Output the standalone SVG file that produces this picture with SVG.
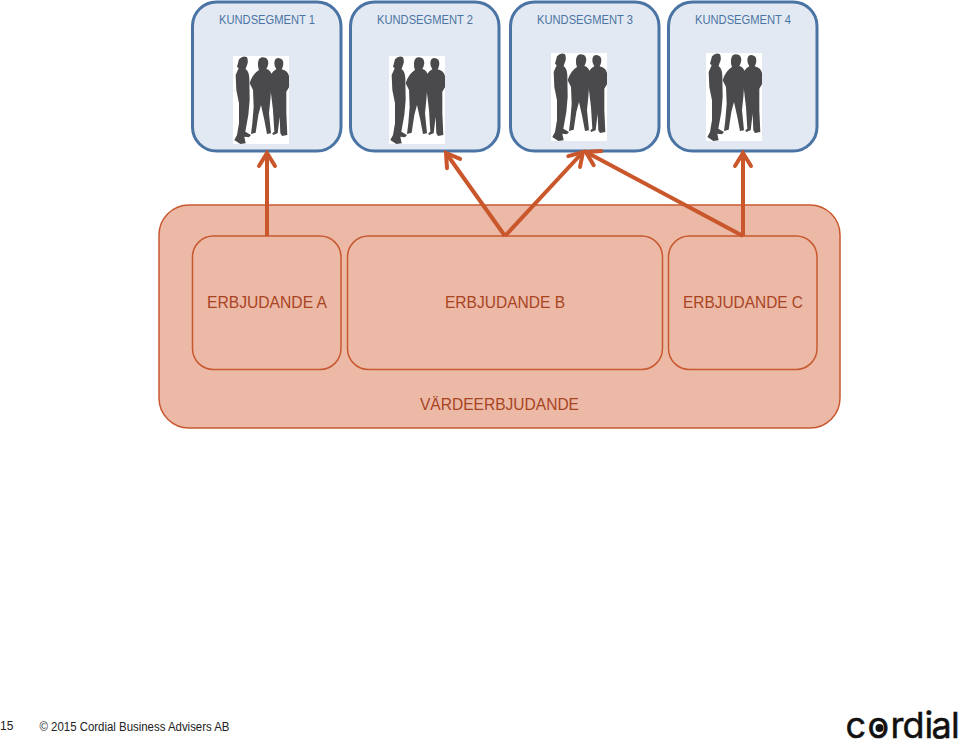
<svg xmlns="http://www.w3.org/2000/svg" width="960" height="741" viewBox="0 0 960 741">
  <style>
    text { font-family: "Liberation Sans", Arial, sans-serif; }
    .seg { fill: #e3e9f2; stroke: #4a74a4; stroke-width: 3; }
    .segt { font-size: 12px; fill: #4a74a4; text-anchor: middle; }
    .outer { fill: #ecb9a7; stroke: #c8582f; stroke-width: 1.5; }
    .offer { fill: #ecb9a7; stroke: #c8582f; stroke-width: 1.5; }
    .offt { font-size: 16.500px; fill: #a8441f; text-anchor: middle; }
    .conn { stroke: #c9572b; stroke-width: 4; fill: none; marker-end: url(#head); }
  </style>
  <defs>
    <marker id="head" markerUnits="userSpaceOnUse" markerWidth="24" markerHeight="24" refX="18" refY="12" orient="auto" viewBox="0 0 24 24">
      <path d="M5 4 L18 12 L5 20" fill="none" stroke="#c9572b" stroke-width="4" stroke-linecap="round" stroke-linejoin="miter"/>
    </marker>
    <!-- three standing figures, 56 x 88 -->
    <g id="people">
      <rect width="56" height="88" fill="#ffffff"/>
      <g transform="scale(.3333) translate(-128,-168)" fill="#4a4a4c">
        <path d="M146 178 Q158 165 170 172 Q176 185 168 200 L166 208 Q176 214 177 235 L178 300 L174 345 L165 395 L182 405 L176 412 L162 410 L166 430 L150 432 L132 420 L140 405 L146 370 L146 310 L138 270 L136 225 L145 205 L140 200 Z"/>
        <path d="M218 172 Q234 172 234 190 Q232 202 228 206 Q244 212 245 230 L240 300 L236 340 L242 400 L230 402 L222 360 L212 315 L204 345 L196 398 L182 402 L186 370 L190 320 L188 270 L178 250 Q186 222 206 210 Q202 200 203 188 Q205 172 218 172 Z"/>
        <path d="M265 174 Q280 176 279 192 Q278 202 274 208 Q292 212 296 228 L296 262 L288 275 L288 340 L291 405 L275 408 L270 400 L268 350 L262 400 L248 405 L246 400 L252 395 L248 330 L242 280 L240 225 Q248 212 258 208 Q252 200 252 190 Q252 174 265 174 Z"/>
      </g>
    </g>
  </defs>

  <g id="vardeerbjudande">
    <rect class="outer" x="159" y="205" width="681" height="223" rx="30"/>
    <text class="offt" x="499.500" y="409.500" textLength="159" lengthAdjust="spacingAndGlyphs">VÄRDEERBJUDANDE</text>
  </g>
  <g id="erbjudande-a">
    <rect class="offer" x="192.500" y="236" width="148.500" height="133.500" rx="21"/>
    <text class="offt" x="267" y="308" textLength="120" lengthAdjust="spacingAndGlyphs">ERBJUDANDE A</text>
  </g>
  <g id="erbjudande-b">
    <rect class="offer" x="347.500" y="236" width="315" height="133.500" rx="21"/>
    <text class="offt" x="505" y="308" textLength="120" lengthAdjust="spacingAndGlyphs">ERBJUDANDE B</text>
  </g>
  <g id="erbjudande-c">
    <rect class="offer" x="668.500" y="236" width="148.500" height="133.500" rx="21"/>
    <text class="offt" x="743" y="308" textLength="120" lengthAdjust="spacingAndGlyphs">ERBJUDANDE C</text>
  </g>

  <g id="kundsegment-1">
    <rect class="seg" x="192.500" y="2" width="148.500" height="149" rx="24"/>
    <text class="segt" x="267" y="24" textLength="96" lengthAdjust="spacingAndGlyphs">KUNDSEGMENT 1</text>
    <use href="#people" x="233" y="56"/>
  </g>
  <g id="kundsegment-2">
    <rect class="seg" x="350.500" y="2" width="148.500" height="149" rx="24"/>
    <text class="segt" x="425" y="24" textLength="96" lengthAdjust="spacingAndGlyphs">KUNDSEGMENT 2</text>
    <use href="#people" x="389" y="56"/>
  </g>
  <g id="kundsegment-3">
    <rect class="seg" x="510.500" y="2" width="148.500" height="149" rx="24"/>
    <text class="segt" x="585" y="24" textLength="96" lengthAdjust="spacingAndGlyphs">KUNDSEGMENT 3</text>
    <use href="#people" x="551" y="53"/>
  </g>
  <g id="kundsegment-4">
    <rect class="seg" x="668.500" y="2" width="148.500" height="149" rx="24"/>
    <text class="segt" x="743" y="24" textLength="96" lengthAdjust="spacingAndGlyphs">KUNDSEGMENT 4</text>
    <use href="#people" x="706" y="53"/>
  </g>

  <g id="connectors">
    <line class="conn" x1="267" y1="236" x2="267" y2="153"/>
    <line class="conn" x1="505" y1="236" x2="446" y2="153"/>
    <line class="conn" x1="505" y1="236" x2="583" y2="152"/>
    <line class="conn" x1="743" y1="236" x2="586" y2="152"/>
    <line class="conn" x1="743" y1="236" x2="743" y2="153"/>
  </g>

  <g id="footer">
    <text x="0" y="730" font-size="12" fill="#222222">15</text>
    <text x="39.500" y="731" font-size="12.500" fill="#222222" textLength="190" lengthAdjust="spacingAndGlyphs">© 2015 Cordial Business Advisers AB</text>
    <text x="845.500 867.500 890.500 902.500 924.500 931.500 951" y="738" font-size="36" fill="#111111" stroke="#111111" stroke-width=".5" style="font-family:'Inter','Liberation Sans',sans-serif">cordial</text>
    <circle cx="879.500" cy="728" r="4" fill="#111111"/>
  </g>
</svg>
